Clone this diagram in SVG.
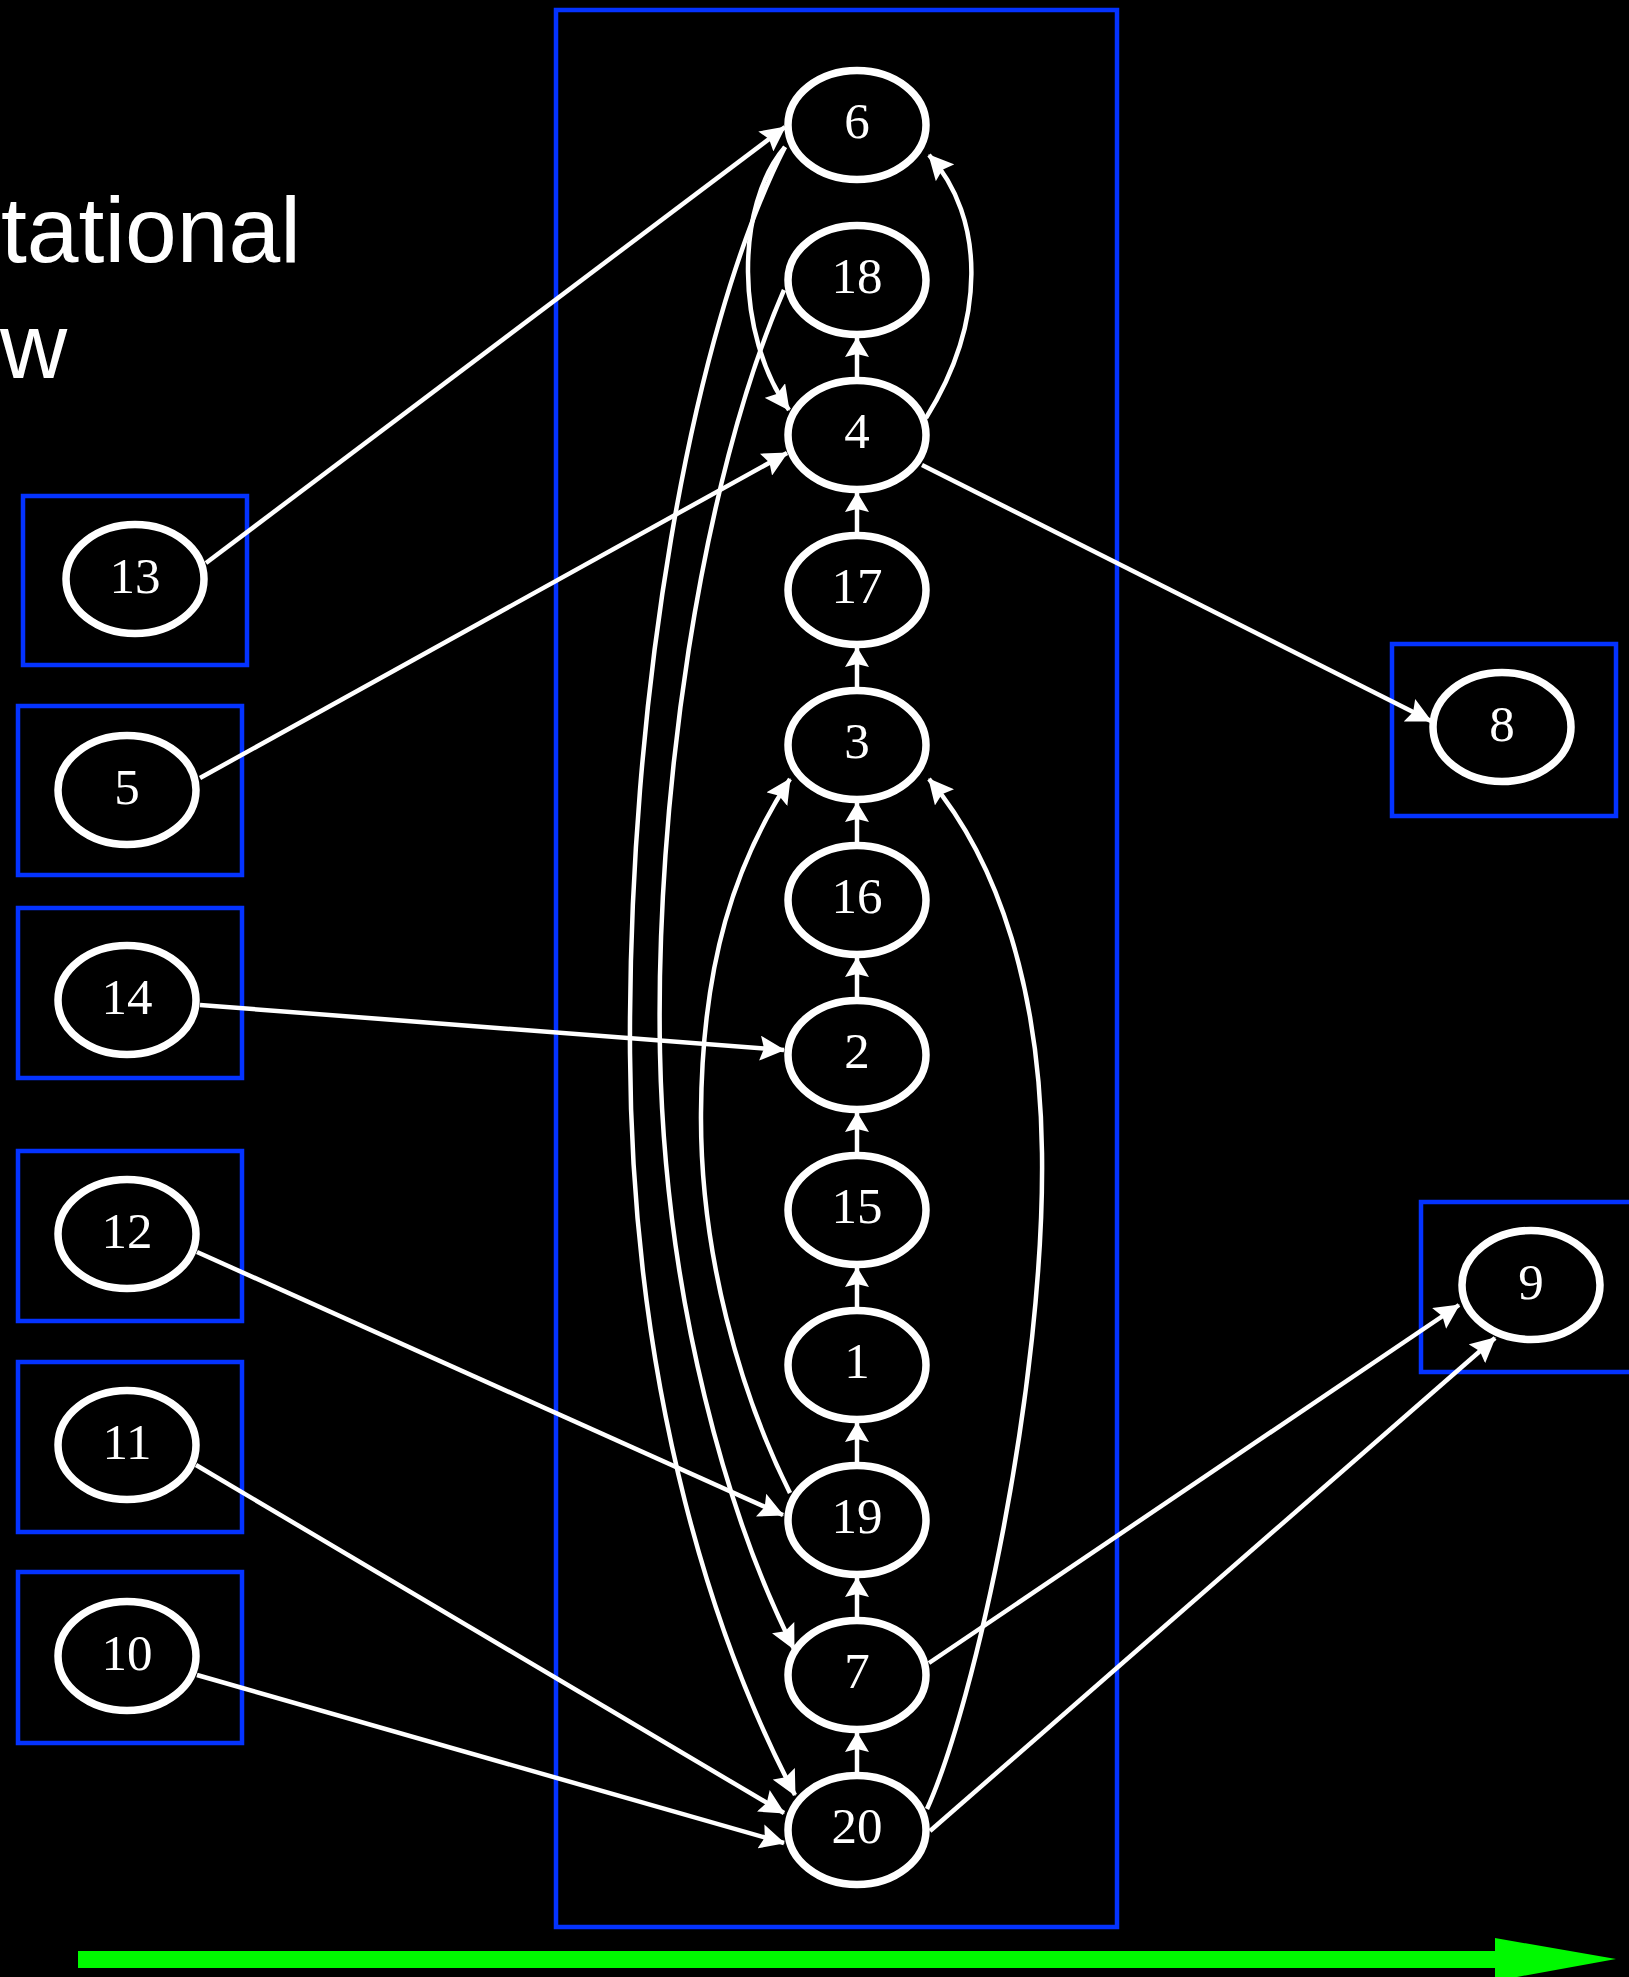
<svg xmlns="http://www.w3.org/2000/svg" width="1629" height="1977" viewBox="0 0 1629 1977">
<style>
.box{fill:none;stroke:#0433ff;stroke-width:4.5}
.nd ellipse{fill:#000;stroke:#fff;stroke-width:7.5}
.nd text{fill:#fff;font-family:"Liberation Serif","Times New Roman",serif;font-size:51px;text-anchor:middle}
.e{fill:none;stroke:#fff;stroke-width:4.5;marker-end:url(#ah)}
.c{fill:none;stroke:#fff;stroke-width:4.5;marker-end:url(#ahs)}
.title{fill:#fff;font-family:"Liberation Sans",Arial,sans-serif;font-size:93px}
</style>
<defs>
<marker id="ah" markerUnits="userSpaceOnUse" markerWidth="25" markerHeight="25" viewBox="0 0 25 25" refX="24" refY="12.5" orient="auto">
<path d="M0,0 L25,12.5 L0,25 L4,12.5 z" fill="#fff"/>
</marker>
<marker id="ahs" markerUnits="userSpaceOnUse" markerWidth="20" markerHeight="24" viewBox="0 0 20 24" refX="19" refY="12" orient="auto">
<path d="M0,0 L20,12 L0,24 L3,12 z" fill="#fff"/>
</marker>
</defs>
<rect width="1629" height="1977" fill="#000"/>
<text class="title" x="1" y="262">tational</text>
<text class="title" x="0" y="378">w</text>
<rect class="box" x="556" y="10" width="561" height="1917"/>
<g id="clusters">
<rect class="box" x="23" y="496" width="224" height="169"/>
<rect class="box" x="18" y="706" width="224" height="169"/>
<rect class="box" x="18" y="908" width="224" height="170"/>
<rect class="box" x="18" y="1151" width="224" height="170"/>
<rect class="box" x="18" y="1362" width="224" height="170"/>
<rect class="box" x="18" y="1572" width="224" height="171"/>
<rect class="box" x="1392" y="644" width="224" height="172"/>
<rect class="box" x="1421" y="1202" width="240" height="170"/>
</g>
<g id="connectors">
<path class="c" d="M857,1772 L857,1733"/>
<path class="c" d="M857,1617 L857,1578"/>
<path class="c" d="M857,1462 L857,1423"/>
<path class="c" d="M857,1307 L857,1268"/>
<path class="c" d="M857,1152 L857,1113"/>
<path class="c" d="M857,997 L857,958"/>
<path class="c" d="M857,842 L857,803"/>
<path class="c" d="M857,687 L857,648"/>
<path class="c" d="M857,532 L857,493"/>
<path class="c" d="M857,377 L857,338"/>
<path class="e" d="M785,147 C735,205 735,335 789,410"/>
<path class="e" d="M926,418 C986,322 986,218 929,155"/>
<path class="e" d="M785,147 C690,333 628,703 630,1053 C632,1403 720,1653 795,1795"/>
<path class="e" d="M784,290 C700,483 655,803 660,1053 C665,1303 730,1523 794,1649"/>
<path class="e" d="M790,1493 C740,1393 700,1253 701,1113 C702,963 735,863 790,779"/>
<path class="e" d="M927,1809 C975,1703 1045,1383 1042,1153 C1040,993 1000,863 929,779"/>
<path class="e" d="M206,563 L785,127"/>
<path class="e" d="M200,778 L787,453"/>
<path class="e" d="M200,1005 L784,1050"/>
<path class="e" d="M197,1252 L783,1515"/>
<path class="e" d="M196,1465 L784,1813"/>
<path class="e" d="M197,1675 L784,1843"/>
<path class="e" d="M922,465 L1431,721"/>
<path class="e" d="M929,1663 L1459,1305"/>
<path class="e" d="M930,1831 L1495,1338"/>
</g>
<g id="n6" class="nd"><ellipse cx="857" cy="125" rx="69" ry="54.5"/><text x="857" y="138">6</text></g>
<g id="n18" class="nd"><ellipse cx="857" cy="280" rx="69" ry="54.5"/><text x="857" y="293">18</text></g>
<g id="n4" class="nd"><ellipse cx="857" cy="435" rx="69" ry="54.5"/><text x="857" y="448">4</text></g>
<g id="n17" class="nd"><ellipse cx="857" cy="590" rx="69" ry="54.5"/><text x="857" y="603">17</text></g>
<g id="n3" class="nd"><ellipse cx="857" cy="745" rx="69" ry="54.5"/><text x="857" y="758">3</text></g>
<g id="n16" class="nd"><ellipse cx="857" cy="900" rx="69" ry="54.5"/><text x="857" y="913">16</text></g>
<g id="n2" class="nd"><ellipse cx="857" cy="1055" rx="69" ry="54.5"/><text x="857" y="1068">2</text></g>
<g id="n15" class="nd"><ellipse cx="857" cy="1210" rx="69" ry="54.5"/><text x="857" y="1223">15</text></g>
<g id="n1" class="nd"><ellipse cx="857" cy="1365" rx="69" ry="54.5"/><text x="857" y="1378">1</text></g>
<g id="n19" class="nd"><ellipse cx="857" cy="1520" rx="69" ry="54.5"/><text x="857" y="1533">19</text></g>
<g id="n7" class="nd"><ellipse cx="857" cy="1675" rx="69" ry="54.5"/><text x="857" y="1688">7</text></g>
<g id="n20" class="nd"><ellipse cx="857" cy="1830" rx="69" ry="54.5"/><text x="857" y="1843">20</text></g>
<g id="n13" class="nd"><ellipse cx="135" cy="579" rx="69" ry="54.5"/><text x="135" y="593">13</text></g>
<g id="n5" class="nd"><ellipse cx="127" cy="790" rx="69" ry="54.5"/><text x="127" y="804">5</text></g>
<g id="n14" class="nd"><ellipse cx="127" cy="1000" rx="69" ry="54.5"/><text x="127" y="1014">14</text></g>
<g id="n12" class="nd"><ellipse cx="127" cy="1234" rx="69" ry="54.5"/><text x="127" y="1248">12</text></g>
<g id="n11" class="nd"><ellipse cx="127" cy="1445" rx="69" ry="54.5"/><text x="127" y="1459">11</text></g>
<g id="n10" class="nd"><ellipse cx="127" cy="1656" rx="69" ry="54.5"/><text x="127" y="1670">10</text></g>
<g id="n8" class="nd"><ellipse cx="1502" cy="727" rx="69" ry="54.5"/><text x="1502" y="741">8</text></g>
<g id="n9" class="nd"><ellipse cx="1531" cy="1285" rx="69" ry="54.5"/><text x="1531" y="1299">9</text></g>
<g id="time-arrow">
<rect x="78" y="1951" width="1420" height="17" fill="#00f900"/>
<path d="M1495,1938 L1616,1959 L1495,1981 z" fill="#00f900"/>
</g>
</svg>
